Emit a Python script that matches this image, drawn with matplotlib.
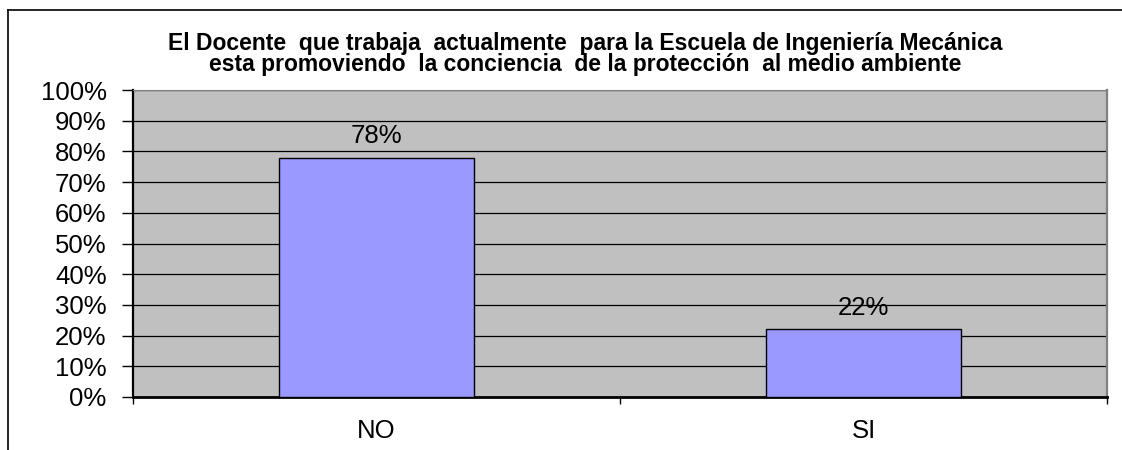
import matplotlib
matplotlib.use("Agg")
import matplotlib.pyplot as plt
from matplotlib.lines import Line2D
from matplotlib.ticker import FixedLocator

categories = ["NO", "SI"]
values = [78, 22]
value_labels = ["78%", "22%"]
yticks = [0, 10, 20, 30, 40, 50, 60, 70, 80, 90, 100]
ytick_labels = ["0%", "10%", "20%", "30%", "40%", "50%", "60%", "70%", "80%", "90%", "100%"]
title = ("El Docente  que trabaja  actualmente  para la Escuela de Ingeniería Mecánica\n"
         "esta promoviendo  la conciencia  de la protección  al medio ambiente")

plt.rcParams['font.family'] = ['Liberation Sans', 'DejaVu Sans']

W, H = 1122, 450
fig = plt.figure(figsize=(W / 100, H / 100), dpi=100)
ax = fig.add_axes([133 / W, 1 - 397 / H, (1107 - 133) / W, (397 - 90) / H])
ax.set_facecolor('#C0C0C0')

x = list(range(len(categories)))
ax.bar(x, values, width=0.4, color='#9999FF', edgecolor='black', linewidth=1.0, zorder=3)
for xi, v, lab in zip(x, values, value_labels):
    ax.text(xi, v + 3.0, lab, ha='center', va='bottom', fontsize=18.5, zorder=4)

ax.set_xlim(-0.5, len(categories) - 0.5)
ax.set_ylim(0, 100)
ax.set_yticks(yticks)
ax.set_yticklabels(ytick_labels, fontsize=18.5)
ax.yaxis.grid(True, color='black', linewidth=0.9, zorder=1)
ax.set_axisbelow(True)
ax.tick_params(axis='y', length=8, width=1, color='black', pad=11)

ax.set_xticks(x)
ax.set_xticklabels(categories, fontsize=18.5)
ax.tick_params(axis='x', which='major', length=0, pad=16)
ax.xaxis.set_minor_locator(FixedLocator([-0.5, 0.5, 1.5]))
ax.tick_params(axis='x', which='minor', length=5, width=1, color='black', direction='out')

ax.spines['left'].set_color('black')
ax.spines['left'].set_linewidth(1.6)
ax.spines['bottom'].set_color('black')
ax.spines['bottom'].set_linewidth(2.0)
ax.spines['right'].set_color('#808080')
ax.spines['right'].set_linewidth(1.6)
ax.spines['top'].set_color('#808080')
ax.spines['top'].set_linewidth(0.8)

fig.text(585 / W, 1 - 54 / H, title, ha='center', va='center', fontsize=16.5,
         fontweight='bold', linespacing=0.92)

# outer chart border (left and top visible)
fig.add_artist(Line2D([8 / W, 8 / W], [0, 1 - 10 / H], transform=fig.transFigure,
                      color='black', linewidth=1.2))
fig.add_artist(Line2D([8 / W, 1], [1 - 10 / H, 1 - 10 / H], transform=fig.transFigure,
                      color='black', linewidth=1.2))

fig.savefig('out.png', dpi=100, facecolor='white')
